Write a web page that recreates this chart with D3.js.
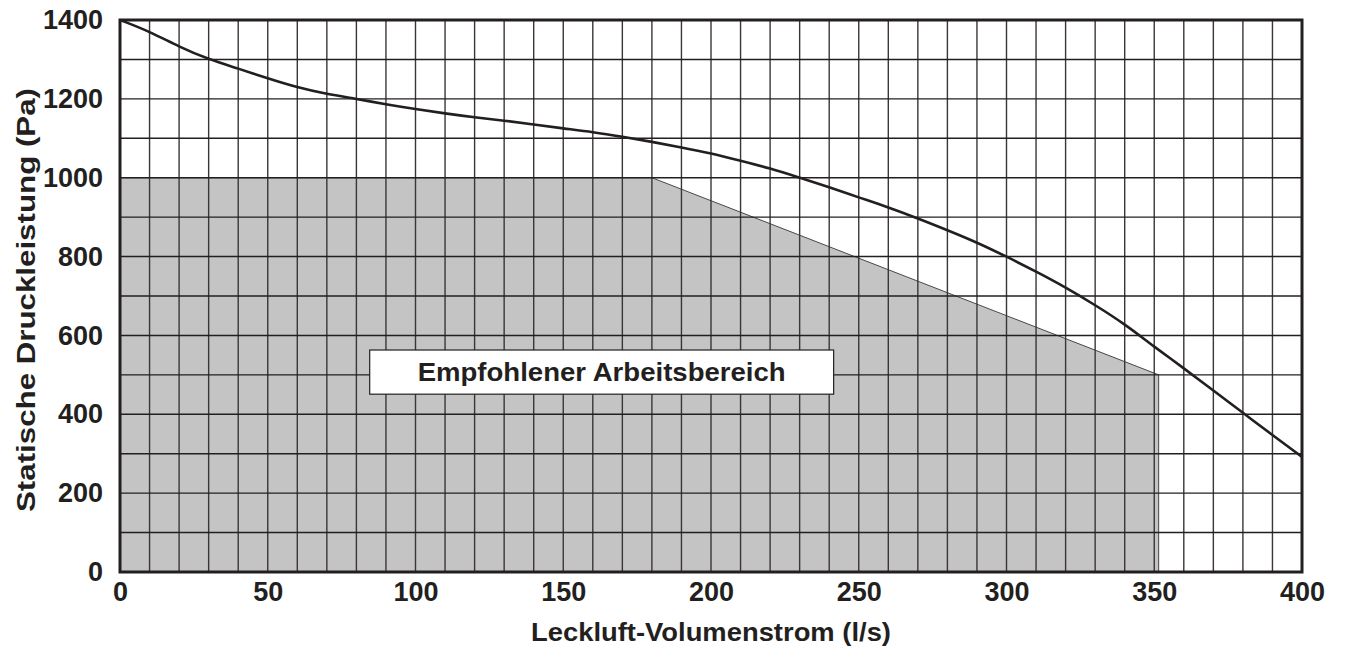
<!DOCTYPE html>
<html>
<head>
<meta charset="utf-8">
<script src="https://cdn.jsdelivr.net/npm/d3@7"></script>
<style>
  body { margin: 0; background: #fff; }
  svg text { font-family: "Liberation Sans", Arial, sans-serif; font-weight: bold; fill: #231f20; }
</style>
</head>
<body>
<div id="chart"></div>
<script>
// Kennlinie: Leckluft-Volumenstrom (l/s) vs statische Druckleistung (Pa)
const curveFlow     = [0, 10, 20, 30, 40, 50, 60, 70, 80, 90, 100, 110, 120, 130, 140, 150, 160, 170, 180, 190, 200,
                       210, 220, 230, 240, 250, 260, 270, 280, 290, 300, 310, 320, 330, 340, 350, 360, 370, 380, 390, 400];
const curvePressure = [1400, 1371, 1332, 1300, 1277, 1252, 1229, 1212, 1200, 1186, 1174, 1163, 1153, 1145, 1135, 1125, 1116, 1104, 1091, 1077, 1062,
                       1043, 1024, 1000, 976, 950, 925, 897, 867, 836, 800, 762, 722, 677, 629, 571, 517, 460, 404, 347, 292];

// empfohlener Arbeitsbereich (Polygon)
const areaFlow     = [0, 0, 180, 351.5, 351.5];
const areaPressure = [0, 1000, 1000, 500, 0];
const areaLabel = 'Empfohlener Arbeitsbereich';

const xTicks = [0, 50, 100, 150, 200, 250, 300, 350, 400];
const yTicks = [0, 200, 400, 600, 800, 1000, 1200, 1400];
const xTitle = 'Leckluft-Volumenstrom (l/s)';
const yTitle = 'Statische Druckleistung (Pa)';

const W = 1345, H = 650;
const margin = {left: 120, top: 20, right: 43, bottom: 78};
const w = W - margin.left - margin.right,
      h = H - margin.top - margin.bottom;

const x = d3.scaleLinear().domain([0, 400]).range([0, w]);
const y = d3.scaleLinear().domain([0, 1400]).range([h, 0]);

const svg = d3.select('#chart').append('svg')
    .attr('width', W)
    .attr('height', H);

const g = svg.append('g')
    .attr('transform', `translate(${margin.left},${margin.top})`);

// shaded area
g.append('path')
    .datum(areaFlow.map((f, i) => [f, areaPressure[i]]))
    .attr('d', d3.line().x(d => x(d[0])).y(d => y(d[1])))
    .attr('fill', '#c4c4c4')
    .attr('stroke', '#231f20')
    .attr('stroke-width', 0.8);

// grid
g.append('g').selectAll('line')
    .data(d3.range(10, 400, 10))
    .enter().append('line')
    .attr('x1', d => x(d)).attr('x2', d => x(d))
    .attr('y1', 0).attr('y2', h)
    .attr('stroke', '#3a3637')
    .attr('stroke-width', 1.4);

g.append('g').selectAll('line')
    .data(d3.range(100, 1400, 100))
    .enter().append('line')
    .attr('x1', 0).attr('x2', w)
    .attr('y1', d => y(d)).attr('y2', d => y(d))
    .attr('stroke', '#231f20')
    .attr('stroke-width', 1.4);

// label box
const box = {x0: 84.5, x1: 241.5, y0: 451, y1: 563};
g.append('rect')
    .attr('x', x(box.x0)).attr('y', y(box.y1))
    .attr('width', x(box.x1) - x(box.x0))
    .attr('height', y(box.y0) - y(box.y1))
    .attr('fill', '#fff')
    .attr('stroke', '#231f20')
    .attr('stroke-width', 1.2);

g.append('text')
    .attr('x', (x(box.x0) + x(box.x1)) / 2)
    .attr('y', (y(box.y0) + y(box.y1)) / 2)
    .attr('text-anchor', 'middle')
    .attr('dy', '0.36em')
    .attr('textLength', 368)
    .attr('lengthAdjust', 'spacingAndGlyphs')
    .style('font-size', '26px')
    .text(areaLabel);

// curve
g.append('path')
    .datum(curveFlow.map((f, i) => [f, curvePressure[i]]))
    .attr('d', d3.line().curve(d3.curveBasis).x(d => x(d[0])).y(d => y(d[1])))
    .attr('fill', 'none')
    .attr('stroke', '#231f20')
    .attr('stroke-width', 2.6);

// frame
g.append('rect')
    .attr('width', w).attr('height', h)
    .attr('fill', 'none')
    .attr('stroke', '#231f20')
    .attr('stroke-width', 3);

// axes (labels only)
const xAxis = d3.axisBottom(x).tickValues(xTicks).tickSize(0).tickPadding(10).tickFormat(d3.format('d'));
const yAxis = d3.axisLeft(y).tickValues(yTicks).tickSize(0).tickPadding(17).tickFormat(d3.format('d'));

g.append('g')
    .attr('transform', `translate(0,${h})`)
    .call(xAxis)
    .call(a => a.select('.domain').remove())
    .selectAll('text').style('font-size', '27px');

g.append('g')
    .call(yAxis)
    .call(a => a.select('.domain').remove())
    .selectAll('text').style('font-size', '27px');

svg.selectAll('.tick text').attr('fill', '#231f20');

svg.append('text')
    .attr('x', margin.left + w / 2)
    .attr('y', 641)
    .attr('text-anchor', 'middle')
    .attr('textLength', 360)
    .attr('lengthAdjust', 'spacingAndGlyphs')
    .style('font-size', '25px')
    .text(xTitle);

svg.append('text')
    .attr('transform', `translate(35,300) rotate(-90)`)
    .attr('text-anchor', 'middle')
    .attr('textLength', 424)
    .attr('lengthAdjust', 'spacingAndGlyphs')
    .style('font-size', '25px')
    .text(yTitle);
</script>
</body>
</html>
